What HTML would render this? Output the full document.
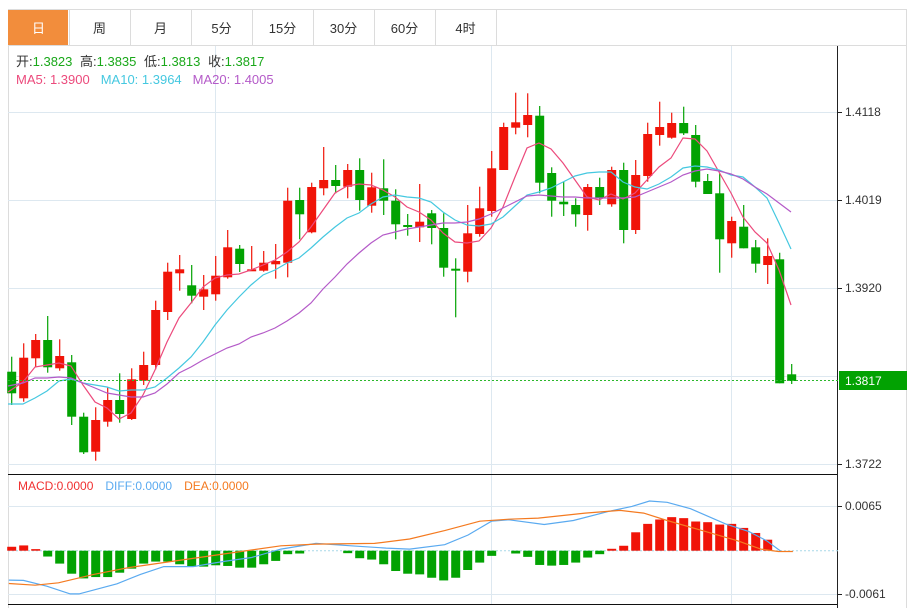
<!DOCTYPE html>
<html><head><meta charset="utf-8">
<style>
body{margin:0;background:#fff;width:913px;height:608px;overflow:hidden;font-family:"Liberation Sans","Noto Sans CJK SC",sans-serif;}
svg{position:absolute;left:0;top:0}
</style></head>
<body>
<svg id="s" width="913" height="608" xmlns="http://www.w3.org/2000/svg" font-family="Liberation Sans, Noto Sans CJK SC, sans-serif"></svg>
<script>
var s=document.getElementById('s');var h='';
function L(x1,y1,x2,y2,c,w,d){h+='<line x1="'+x1+'" y1="'+y1+'" x2="'+x2+'" y2="'+y2+'" stroke="'+c+'" stroke-width="'+(w||1)+'"'+(d?' stroke-dasharray="'+d+'"':'')+'/>';}
function T(x,y,t,c,sz,a){h+='<text x="'+x+'" y="'+y+'" fill="'+c+'" font-size="'+(sz||12)+'"'+(a?' text-anchor="'+a+'"':'')+'>'+t+'</text>';}
// frame
h+='<rect x="8.5" y="9.5" width="898" height="600" fill="none" stroke="#dcdcdc"/>';
L(8,45.5,907,45.5,'#dcdcdc');
h+='<rect x="8" y="10" width="60" height="35" fill="#f28d3c"/>';
var tabs=['日','周','月','5分','15分','30分','60分','4时'];
for(var i=0;i<tabs.length;i++){var x=8+61*i;T(x+30.5,33,tabs[i],i==0?'#fff':'#333',13,'middle');L(x+61.5,10,x+61.5,45,'#dcdcdc');}
// grids
[112,200,288,376,464].forEach(function(y){L(8,y+.5,838,y+.5,'#dde8f0');});
[506,594].forEach(function(y){L(8,y+.5,838,y+.5,'#dde8f0');});
[215,491,731].forEach(function(x){L(x+.5,46,x+.5,604,'#dde8f0');});
L(8,474.5,838,474.5,'#111');L(8,604.5,838,604.5,'#111');
L(837.5,46,837.5,608,'#222');
// axis labels
[['1.4118',112],['1.4019',200],['1.3920',288],['1.3722',464]].forEach(function(a){L(838,a[1]+.5,842,a[1]+.5,'#222');T(845,a[1]+4,a[0],'#333',12);});
[['0.0065',506],['-0.0061',594]].forEach(function(a){L(838,a[1]+.5,842,a[1]+.5,'#222');T(845,a[1]+4,a[0],'#333',12);});
// candles
var C=[['G',371.7,393.3,356.7,405],['R',357.7,398.3,343.3,401.7],['R',340,358.3,334,367.3],['G',340,367.3,316,372.7],['R',356,368.3,339.3,370.7],['G',362.3,416.7,355,425],['G',416.7,452.3,412.7,454],['R',420,451.7,407.3,460.7],['R',400,421.7,387.3,426.7],['G',400,414,373.3,422.7],['R',379.3,419,368.3,420],['R',365,380.7,351.7,385],['R',310,365,300.7,369.3],['R',271.7,312,262.7,320],['R',269.3,273.3,255,290.7],['G',285.3,295.7,265,303.3],['R',289.3,296.7,275,310],['R',275.7,294.3,256,300.7],['R',247.3,277.3,230,278.7],['G',248.7,264,245,272],['R',269.3,270.7,246,270.7],['R',262.7,270.7,251,271.7],['R',261,264.3,244,278.7],['R',200.7,262.7,187.7,277.3],['G',200,214.3,187.7,239.3],['R',187,232.3,182.7,233.3],['R',180,188.3,147,195.3],['G',180,186,165,193.3],['R',170,186.7,164,198.3],['G',170,200,158.3,210.7],['R',187.3,205.7,172.7,212.7],['G',188.3,200.7,159.3,215],['G',200.7,224.3,189.3,239.3],['G',225,227,214,235.7],['R',221.7,227.3,184,242],['G',213.3,228,210,244.3],['G',228,267.7,213.3,276.7],['G',268.7,270.7,258.3,317.3],['R',233.3,271.7,205,282.3],['R',208.3,234,186.7,236.7],['R',168.3,211,151,216.7],['R',127,170,122.7,170],['R',122.3,127.7,92.7,134.3],['R',115,125,93.3,137.3],['G',115.7,182.7,106,193.3],['G',173,200.7,167.3,216.7],['G',201.7,204.3,181.7,216],['G',205,214.3,198.3,226.7],['R',187,215,184,230.7],['G',187,198.3,177.7,205],['R',170,204.3,166.7,206.7],['G',170,230,162.7,243.3],['R',175,230,160,234],['R',134,176,122.7,181.7],['R',127,135,101.7,145.7],['R',123,137.7,112.7,138.7],['G',123,133.3,106.7,135],['G',135,181.7,125,187.3],['G',181,194,174,194],['G',193.3,239.3,173.3,272.7],['R',221,243.3,216.7,257.7],['G',226.7,248.3,205,248.3],['G',247.3,263.7,240,272.7],['R',256,265,238.3,284],['G',259.3,383.3,252.7,383.3],['G',374.3,381,364,384]];
var RC='#f01408',GC='#02a202';
C.forEach(function(c,i){var x=11.7+12*i,col=c[0]=='R'?RC:GC;L(x,c[3],x,c[4],col,1.2);h+='<rect x="'+(x-4.5)+'" y="'+c[1]+'" width="9" height="'+Math.max(2,c[2]-c[1])+'" fill="'+col+'"/>';});
function P(pts,c,w){h+='<polyline fill="none" stroke="'+c+'" stroke-width="'+(w||1.2)+'" points="'+pts+'"/>';}
P('8,392 23,382 35,367 47,365 59,363 71,366 83,385 95,402 107,408 119,419 131,413 143,395 155,370 167,342 179,318 191,303 203,287 215,278 227,275 239,274 251,270 263,265 275,260 287,252 299,242 311,227 323,210 335,193 347,186 359,184 371,185 383,190 395,197 407,207 419,212 431,220 443,233 455,242 467,243 479,241 491,228 503,207 515,177 527,148 539,143 551,149 563,163 575,180 587,197 599,200 611,194 623,199 635,193 647,180 659,167 671,158 683,138 695,139 707,151 719,172 731,193 743,217 755,232 767,243 779,270 791,305','#ec4a7c');
P('8,404 23,404 35,398 47,391 59,381 71,379 83,383 95,385 107,387 119,391 131,390 143,390 155,387 167,378 179,368 191,357 203,342 215,325 227,310 239,297 251,285 263,275 275,270 287,263 299,258 311,248 323,237 335,227 347,218 359,213 371,204 383,197 395,195 407,197 419,198 431,202 443,212 455,220 467,225 479,226 491,224 503,217 515,206 527,195 539,192 551,188 563,182 575,176 587,173 599,172 611,172 623,182 635,187 647,189 659,184 671,177 683,168 695,166 707,167 719,170 731,175 743,177 755,187 767,198 779,223 791,249','#45c8e0');
P('8,386 23,383 35,378 47,378 59,377 71,378 83,383 95,388 107,393 119,395 131,397 143,397 155,393 167,384 179,373 191,367 203,360 215,354 227,348 239,344 251,337 263,333 275,328 287,321 299,313 311,303 323,289 335,277 347,264 359,253 371,243 383,235 395,232 407,229 419,227 431,225 443,223 455,223 467,222 479,219 491,214 503,208 515,202 527,196 539,195 551,196 563,197 575,197 587,198 599,198 611,198 623,198 635,197 647,192 659,187 671,182 683,175 695,171 707,169 719,171 731,174 743,179 755,187 767,194 779,203 791,212','#b45ac8');
// close line
L(8,380.5,838,380.5,'#2cb82c',1,'2,2');
h+='<rect x="839" y="371" width="68" height="19" fill="#02a202"/>';T(845,385,'1.3817','#fff',12);
// MACD
var Z=550.7;L(8,Z,838,Z,'#a8d8e8',1,'2,2');
var B=[228,224,235,257,278,308,322,318,318,305,293,278,272,272,280,287,287,283,285,290,290,280,270,250,248,240,240,242,247,262,266,280,300,308,310,320,328,320,297,275,255,242,248,258,282,284,282,275,260,250,234,225,185,160,147,140,143,153,155,162,160,172,187,207];
B.forEach(function(z,i){var y=470+z/2.97,x=11.7+12*i;if(Math.abs(y-Z)<0.8)return;var col=y<Z?RC:GC;h+='<rect x="'+(x-4.5)+'" y="'+Math.min(y,Z)+'" width="9" height="'+Math.abs(y-Z)+'" fill="'+col+'"/>';});
function M(a,c){var p=[];for(var i=0;i<a.length;i+=2)p.push((a[i]/1.709).toFixed(1)+','+(470+a[i+1]/2.97).toFixed(1));P(p.join(' '),c,1.2);}
M([15,327,40,328,80,345,120,368,135,368,200,338,240,310,280,287,330,287,380,272,430,260,480,235,540,218,600,225,660,232,700,235,760,222,800,193,840,152,870,148,930,162,980,150,1040,123,1080,108,1110,92,1140,96,1180,115,1240,160,1280,183,1310,210,1335,242],'#5aaaf0');
M([15,337,60,342,100,335,160,310,220,290,300,270,400,245,480,225,540,220,640,218,700,205,760,180,820,152,870,146,920,143,1000,128,1060,120,1100,128,1140,150,1200,180,1260,210,1300,235,1330,242,1355,242],'#f47a20');
// legends
h+='<text x="16" y="66" font-size="13"><tspan fill="#333">开:</tspan><tspan fill="#1aa81a">1.3823 </tspan><tspan fill="#333" dx="4">高:</tspan><tspan fill="#1aa81a">1.3835 </tspan><tspan fill="#333" dx="4">低:</tspan><tspan fill="#1aa81a">1.3813 </tspan><tspan fill="#333" dx="4">收:</tspan><tspan fill="#1aa81a">1.3817</tspan></text>';
h+='<text x="16" y="84" font-size="13"><tspan fill="#ec4a7c">MA5: 1.3900</tspan><tspan fill="#45c8e0" dx="11">MA10: 1.3964</tspan><tspan fill="#b45ac8" dx="11">MA20: 1.4005</tspan></text>';
h+='<text x="18" y="490" font-size="12"><tspan fill="#f03030">MACD:0.0000</tspan><tspan fill="#5aaaf0" dx="12">DIFF:0.0000</tspan><tspan fill="#f47a20" dx="12">DEA:0.0000</tspan></text>';
s.innerHTML=h;
</script>
</body></html>
